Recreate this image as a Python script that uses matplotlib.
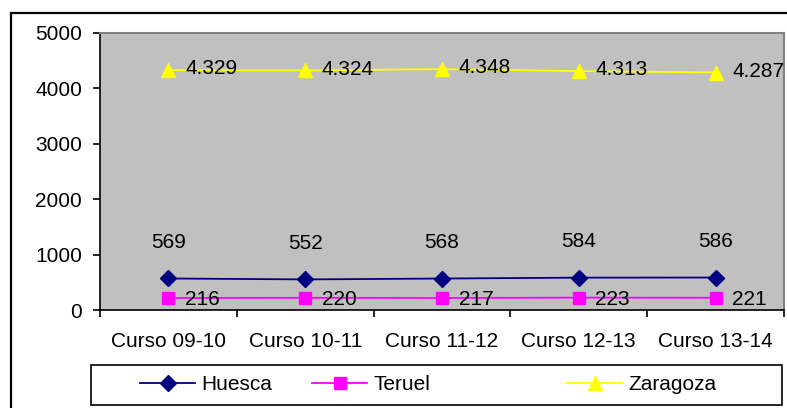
import matplotlib

matplotlib.use("Agg")
import matplotlib.pyplot as plt
from matplotlib.patches import Rectangle

plt.rcParams["font.family"] = ["Liberation Sans", "DejaVu Sans"]

cursos = ["Curso 09-10", "Curso 10-11", "Curso 11-12", "Curso 12-13", "Curso 13-14"]
huesca = [569, 552, 568, 584, 586]
teruel = [216, 220, 217, 223, 221]
zaragoza = [4329, 4324, 4348, 4313, 4287]
y_ticks = [0, 1000, 2000, 3000, 4000, 5000]

W, H = 787, 408
FS = 15

fig = plt.figure(figsize=(W / 100, H / 100), dpi=100)


def px(x0, y0, x1, y1):
    # pixel box (top-left origin) -> figure fraction rect
    return [x0 / W, 1 - y1 / H, (x1 - x0) / W, (y1 - y0) / H]


# outer chart border
fig.patches.append(
    Rectangle((11 / W, -0.05), 1.1, 1 - 13 / H + 0.05, transform=fig.transFigure,
              fill=False, edgecolor="black", linewidth=1.6)
)

ax = fig.add_axes(px(100, 33, 784, 310))
ax.set_facecolor("#C0C0C0")
for s in ("top", "right"):
    ax.spines[s].set_color("#808080")
    ax.spines[s].set_linewidth(1.5)
for s in ("left", "bottom"):
    ax.spines[s].set_color("black")
    ax.spines[s].set_linewidth(1.2)

x = list(range(len(cursos)))
l_h, = ax.plot(x, huesca, color="#000080", marker="D", markersize=8, linewidth=1.3, label="Huesca")
l_t, = ax.plot(x, teruel, color="#FF00FF", marker="s", markersize=8, linewidth=1.3, label="Teruel")
l_z, = ax.plot(x, zaragoza, color="#FFFF00", marker="^", markersize=10, linewidth=1.3, label="Zaragoza")

for xi, v in zip(x, huesca):
    ax.annotate(str(v), (xi, v), xytext=(0, 26), textcoords="offset points",
                ha="center", va="center", fontsize=FS)
for xi, v in zip(x, teruel):
    ax.annotate(str(v), (xi, v), xytext=(12, -1), textcoords="offset points",
                ha="left", va="center", fontsize=FS)
for xi, v in zip(x, zaragoza):
    lab = f"{v:,}".replace(",", ".")
    ax.annotate(lab, (xi, v), xytext=(12, 1), textcoords="offset points",
                ha="left", va="center", fontsize=FS, annotation_clip=False)

ax.set_xlim(-0.5, len(cursos) - 0.5)
ax.set_ylim(0, 5000)
ax.set_yticks(y_ticks)
ax.set_yticklabels([str(t) for t in y_ticks], fontsize=FS)
ax.tick_params(axis="y", length=5, width=1.2, pad=8)

ax.set_xticks(x)
ax.set_xticklabels(cursos, fontsize=FS)
ax.set_xticks([i - 0.5 for i in range(len(cursos) + 1)], minor=True)
ax.tick_params(axis="x", which="major", length=0, pad=16)
ax.tick_params(axis="x", which="minor", length=5, width=1.2)

# legend frame and entries
fig.patches.append(
    Rectangle((91 / W, 1 - 405 / H), (782 - 91) / W, (405 - 365) / H,
              transform=fig.transFigure, fill=False, edgecolor="black", linewidth=1.2)
)
for handle, x0 in ((l_h, 140), (l_t, 312), (l_z, 567)):
    fig.legend(handles=[handle], loc="center left", bbox_to_anchor=(x0 / W, 1 - 385 / H),
               frameon=False, fontsize=FS, handlelength=2.65, handletextpad=0.3,
               borderpad=0, borderaxespad=0)

fig.savefig("out.png", dpi=100)
